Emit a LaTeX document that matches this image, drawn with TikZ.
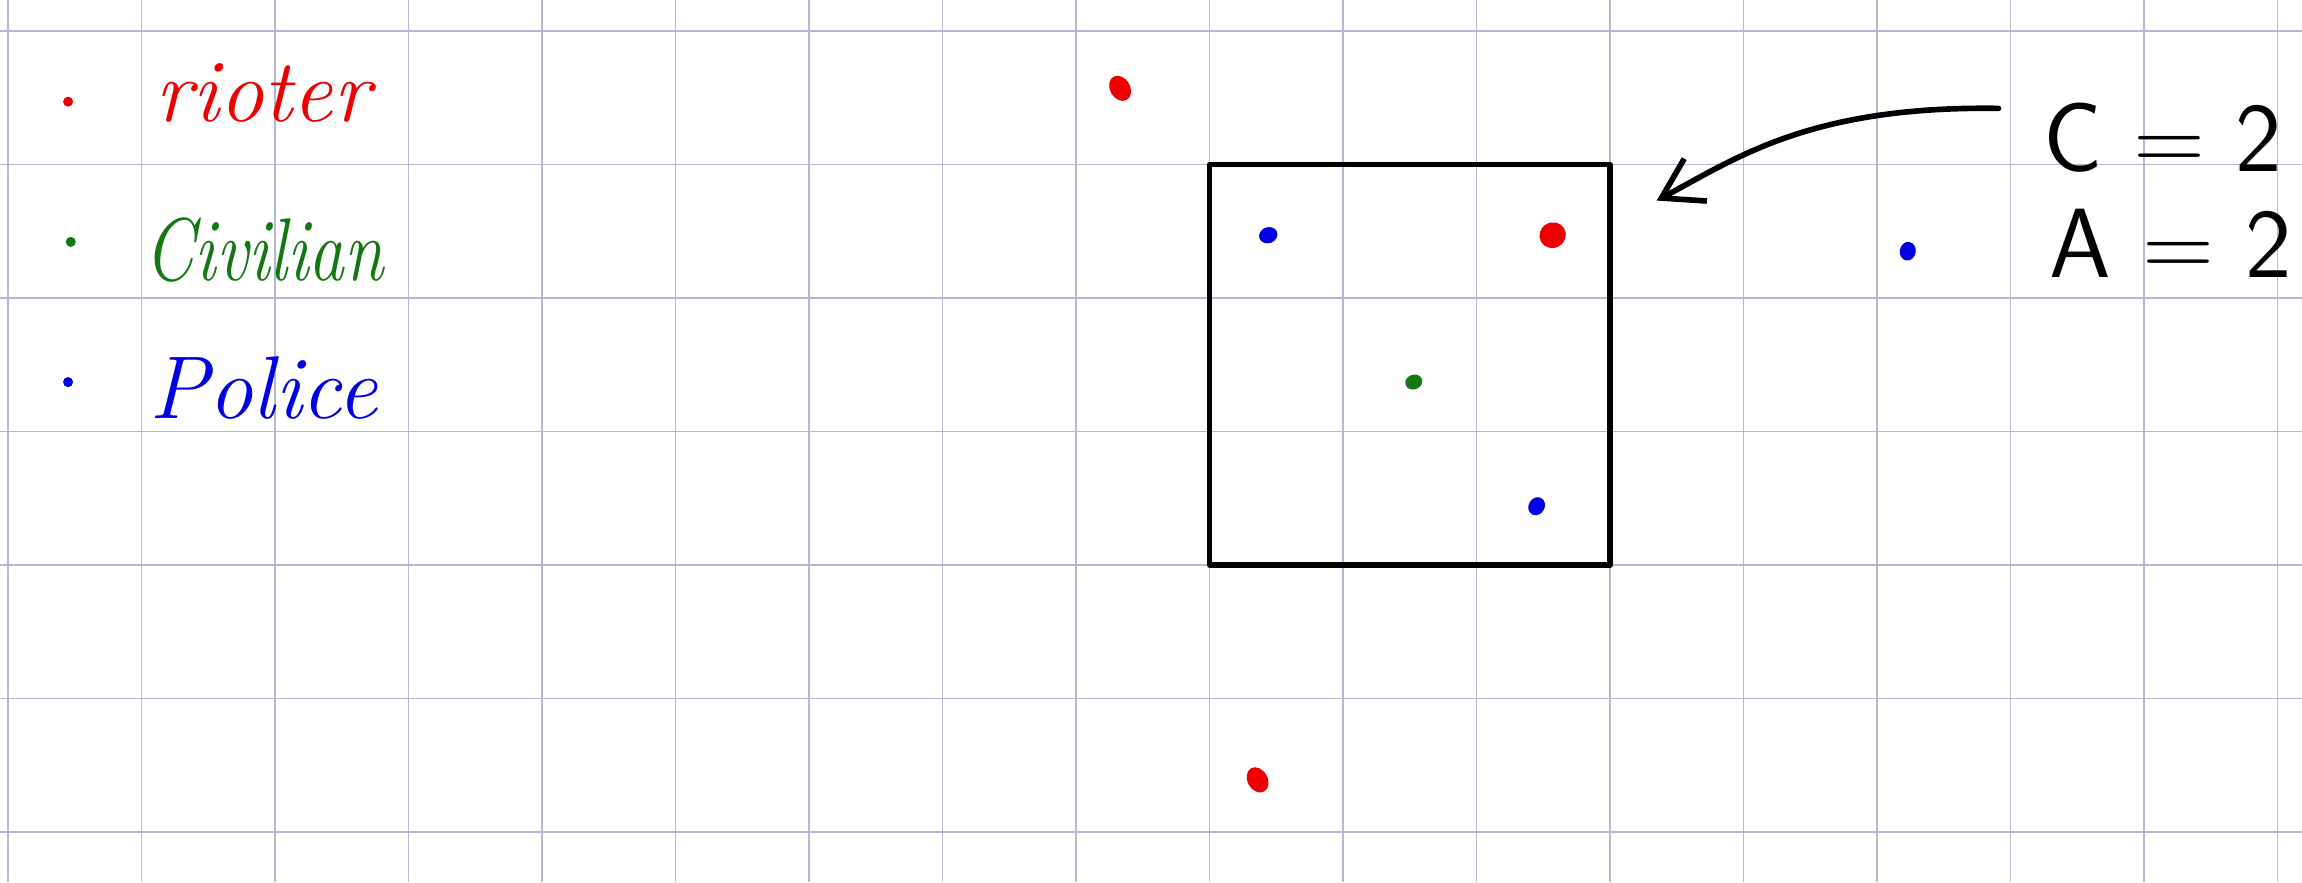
\documentclass[tikz,border=0pt]{standalone}
\usepackage{tikz}
\usetikzlibrary{arrows.meta,calc,shapes.geometric}
\usetikzlibrary{positioning}
\definecolor{gridblue}{RGB}{180,184,214}
\definecolor{rioterred}{RGB}{238,0,0}
\definecolor{civgreen}{RGB}{18,120,18}
\definecolor{policeblue}{RGB}{0,0,228}

\begin{document}
\begin{tikzpicture}[>=Stealth,line join=round,
  agent/.style={ellipse,fill=#1,inner sep=0pt,minimum width=0.14cm,minimum height=0.12cm,rotate=20},
  rioter/.style={agent=rioterred,minimum width=0.15cm,minimum height=0.2cm,rotate=10},
  police/.style={agent=policeblue},
  civilian/.style={agent=civgreen,minimum width=0.13cm,minimum height=0.11cm},
  keydot/.style={circle,fill=#1,inner sep=0pt,minimum size=0.075cm},
  keytext/.style={anchor=base west,inner sep=0pt,text=#1,font=\itshape\fontsize{19}{22}\selectfont},
  countlabel/.style={font=\sffamily\fontsize{21}{25}\selectfont,inner sep=0pt},
  pointer/.style={line width=1.2pt,line cap=round,-{Straight Barb[length=2.9mm,width=3.6mm]}}]
\useasboundingbox (-0.06,-0.375) rectangle (17.183,6.232);
\fill[white] (-0.06,-0.375) rectangle (17.183,6.232);
% squared paper
\draw[gridblue,line width=0.3pt,step=1cm] (-0.06,-0.375) grid (17.183,6.232);
% key
\node[keydot=rioterred] (keyr) at (0.45,5.47) {};
\node[keytext=rioterred] (keyrtext) at (1.1,5.32) {rioter};
\node[keydot=civgreen] (keyc) at (0.47,4.42) {};
\node[keytext=civgreen,xscale=0.8,transform shape] (keyctext) at (1.02,4.13) {Civilian};
\node[keydot=policeblue] (keyp) at (0.45,3.37) {};
\node[keytext=policeblue] (keyptext) at (1.05,3.10) {Police};
% neighbourhood cell
\node[draw,line width=1.1pt,minimum size=3cm,inner sep=0pt] (crowd) at (10.5,3.5) {};
% agents
\node[rioter] (r1) at (8.33,5.57) {};
\node[rioter,minimum width=0.2cm,minimum height=0.19cm] (r2) at (11.57,4.47) {};
\node[rioter] (r3) at (9.36,0.39) {};
\node[police] (p1) at (9.44,4.47) {};
\node[police,rotate=40] (p2) at (11.45,2.44) {};
\node[police,rotate=60] (p3) at (14.23,4.35) {};
\node[civilian] (c1) at (10.53,3.37) {};
% counts
\node[countlabel] (cval) at (16.14,5.20) {C = 2};
\node[countlabel] (aval) at (16.20,4.41) {A = 2};
\coordinate (tail) at (14.91,5.42);
\draw[pointer] (tail) .. controls (13.5,5.44) and (12.95,5.05) .. ([shift={(0.33,-0.29)}]crowd.north east);
\end{tikzpicture}
\end{document}
